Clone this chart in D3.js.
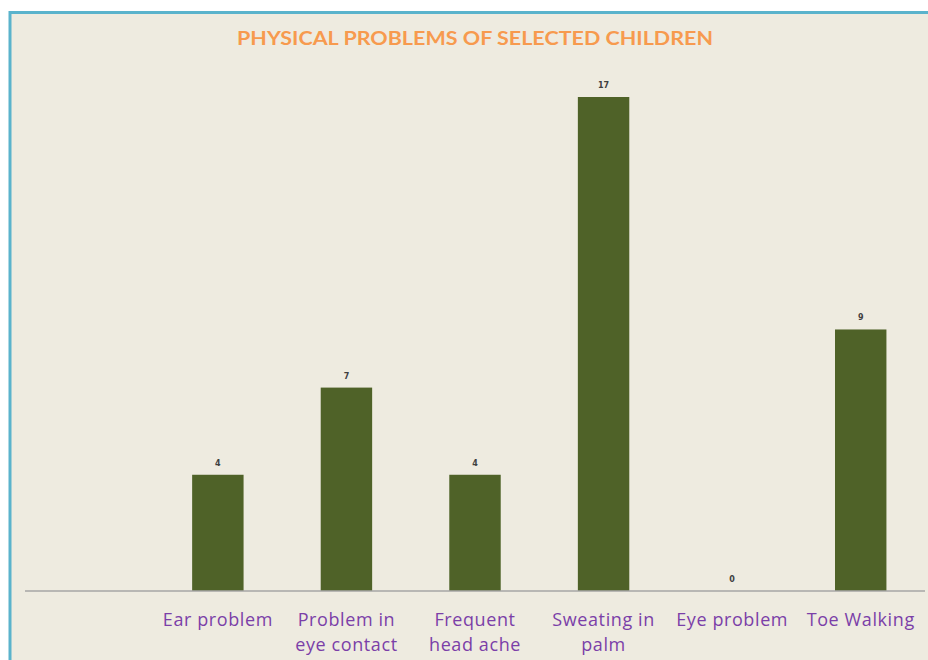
<!DOCTYPE html>
<html>
<head>
<meta charset="utf-8">
<script src="https://cdn.jsdelivr.net/npm/d3@7"></script>
<style>
  html, body { margin: 0; padding: 0; background: #ffffff; }
  svg { display: block; }
</style>
</head>
<body>
<svg id="chart" width="928" height="660"></svg>
<script>
// ---- Data ----
const title = "PHYSICAL PROBLEMS OF SELECTED CHILDREN";
const categories = ["", "Ear problem", "Problem in eye contact", "Frequent head ache", "Sweating in palm", "Eye problem", "Toe Walking"];
const values = [null, 4, 7, 4, 17, 0, 9];

// ---- Layout ----
const W = 928, H = 660;
const plot = { left: 25, right: 925, top: 97, bottom: 591 };

const svg = d3.select("#chart");

// frame
svg.append("rect")
  .attr("x", 10).attr("y", 12.5)
  .attr("width", 940).attr("height", 700)
  .attr("fill", "#EEEBE0")
  .attr("stroke", "#5AB3CC")
  .attr("stroke-width", 3);

// title
svg.append("text")
  .attr("x", 475).attr("y", 45)
  .attr("text-anchor", "middle")
  .attr("font-family", "Lato, 'Open Sans', sans-serif")
  .attr("font-weight", "bold")
  .attr("font-size", 19)
  .attr("fill", "#F79A4E")
  .attr("textLength", 476)
  .attr("lengthAdjust", "spacingAndGlyphs")
  .text(title);

const x = d3.scaleBand()
  .domain(categories)
  .range([plot.left, plot.right])
  .paddingInner(0.6)
  .paddingOuter(0.3);

const y = d3.scaleLinear()
  .domain([0, 17])
  .range([plot.bottom, plot.top]);

const data = categories.map((c, i) => ({ c, v: values[i] }));

// bars
svg.append("g").selectAll("rect")
  .data(data.filter(d => d.v !== null))
  .join("rect")
  .attr("x", d => x(d.c))
  .attr("y", d => y(d.v))
  .attr("width", x.bandwidth())
  .attr("height", d => y(0) - y(d.v))
  .attr("fill", "#4F6228");

// value labels
svg.append("g").selectAll("text")
  .data(data.filter(d => d.v !== null))
  .join("text")
  .attr("x", d => x(d.c) + x.bandwidth() / 2)
  .attr("y", d => y(d.v) - 9)
  .attr("text-anchor", "middle")
  .attr("font-family", "'DejaVu Sans', sans-serif")
  .attr("font-weight", "bold")
  .attr("font-size", 8)
  .attr("fill", "#404040")
  .text(d => d.v);

// x axis
const xAxis = d3.axisBottom(x).tickSize(0).tickPadding(0);
const gx = svg.append("g")
  .attr("transform", `translate(0,${plot.bottom})`)
  .call(xAxis);
gx.select(".domain")
  .attr("stroke", "#A6A6A6")
  .attr("stroke-width", 1.5)
  .attr("d", `M${plot.left},0H${plot.right}`);

gx.selectAll(".tick text")
  .attr("font-family", "'Open Sans', sans-serif")
  .attr("font-size", 18)
  .attr("letter-spacing", 0.6)
  .attr("fill", "#7B3FA8")
  .attr("y", 0)
  .attr("dy", 0)
  .each(function(d) {
    const t = d3.select(this);
    const words = d.split(/\s+/).filter(Boolean);
    t.text(null);
    const maxW = 122;
    let lines = [];
    let line = [];
    let tsp = t.append("tspan");
    words.forEach(w => {
      line.push(w);
      tsp.text(line.join(" "));
      if (tsp.node().getComputedTextLength() > maxW && line.length > 1) {
        line.pop();
        lines.push(line.join(" "));
        line = [w];
      }
      tsp.text(line.join(" "));
    });
    if (line.length) lines.push(line.join(" "));
    t.text(null);
    lines.forEach((l, i) => {
      t.append("tspan")
        .attr("x", 0)
        .attr("y", 34.5 + i * 25)
        .text(l);
    });
  });
</script>
</body>
</html>
